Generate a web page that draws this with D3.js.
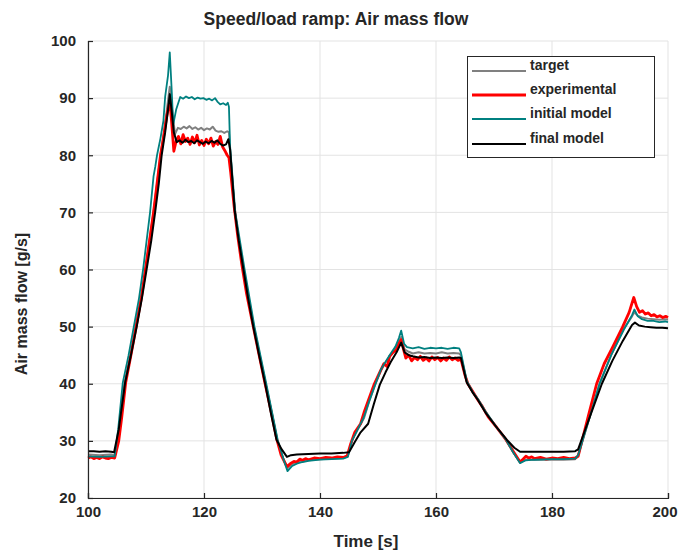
<!DOCTYPE html>
<html><head><meta charset="utf-8">
<script src="https://cdn.jsdelivr.net/npm/d3@7"></script>
<style>
body{margin:0;background:#fff;}
text{font-family:"Liberation Sans",Arial,sans-serif;font-weight:bold;fill:#262626;}
</style></head>
<body><svg id="c" width="678" height="554"></svg>
<script>
const title = "Speed/load ramp: Air mass flow";
const xLabel = "Time [s]";
const yLabel = "Air mass flow [g/s]";
const xTicks = [100,120,140,160,180,200];
const yTicks = [20,30,40,50,60,70,80,90,100];
const seriesNames = ["target","experimental","initial model","final model"];

const target = [[100,27.6],[102,27.5],[104,27.6],[104.6,27.5],[105.4,32],[106.3,40.2],[107.3,45],[108.2,50],[109.1,55],[109.9,60],[110.6,65],[111.3,70],[111.9,75],[112.5,80],[113.1,84],[113.6,88],[114.1,92],[114.5,88],[115,83.7],[115.5,84.8],[116,84.6],[116.5,85.0],[117,84.7],[117.5,85.1],[118,84.6],[118.5,84.9],[119,84.5],[119.5,84.8],[120,84.4],[120.5,84.7],[121,84.5],[121.5,85.0],[122,84.3],[122.5,84.1],[123,84.2],[123.5,83.9],[124,84.2],[124.3,84.0],[124.5,81],[125.3,70.2],[126.8,60],[128.6,50],[130.6,40.2],[132.6,30.2],[133.7,26.8],[134.4,25.2],[135.2,25.9],[136,26.2],[138,26.6],[140,26.8],[142,26.9],[144,27.0],[144.8,27.3],[145.5,30],[146.5,32],[147.6,34],[148.5,37],[149.5,39.8],[150.5,42.3],[151.3,43.7],[152.2,45],[153.2,46.5],[154,48.2],[154.6,46],[155.3,45.6],[156,45.3],[157,45.5],[158,45.3],[159,45.4],[160,45.3],[161,45.5],[162,45.3],[163,45.4],[164,45.3],[164.3,45],[165.3,40.4],[166.3,38.6],[167.3,37.2],[168.5,35.2],[170.5,32.3],[172,30.3],[173.3,28],[174.5,26.3],[175.5,26.7],[177,26.7],[180,26.7],[182,26.7],[184,26.8],[184.5,27.4],[186.6,34.5],[188.2,40],[190.2,45],[192.3,49.5],[193.8,51.8],[194.2,52.5],[194.8,51.9],[195.5,51.6],[196.5,51.4],[197.5,51.3],[198.5,51.2],[199.5,51.3],[200,51.2]];

const experimental = [[100,27.0],[100.5,27.2],[101,26.9],[101.5,27.1],[102,26.9],[102.5,27.2],[103,27.0],[103.5,26.9],[104,27.1],[104.6,27.0],[105.3,30],[105.8,34],[106.5,40.2],[107.4,45],[108.3,50],[109.2,55],[109.9,60],[110.6,65],[111.3,70],[111.9,75],[112.5,80],[113,83],[113.6,87],[114.1,89.5],[114.4,86],[114.8,80.7],[115.2,82.5],[115.6,83.3],[116,82.0],[116.4,83.6],[116.8,82.4],[117.2,83.0],[117.6,81.9],[118,83.2],[118.4,82.2],[118.8,83.5],[119.2,81.8],[119.6,82.6],[120,81.7],[120.4,82.8],[120.8,82.0],[121.2,83.0],[121.6,81.6],[122,82.4],[122.4,81.9],[122.8,83.3],[123.2,81.5],[123.6,80.8],[124,80.0],[124.3,79.6],[124.6,77],[125.2,71],[125.8,66],[126.5,61],[127.3,56],[128.3,51],[129.4,45.5],[130.5,40.2],[131.5,35.5],[132.5,30.5],[133.3,27.5],[134.3,25.5],[135,26.1],[135.5,26.4],[136,26.3],[136.5,26.8],[137,26.6],[137.5,26.9],[138,26.7],[139,27.0],[140,26.9],[141,27.1],[142,27.0],[143,27.2],[144,27.1],[144.7,27.4],[145.3,29.5],[146,31.5],[147,33],[147.6,35],[148.3,37],[149.3,39.8],[150.3,42],[151,43.5],[151.6,43],[152,44.8],[152.6,45.5],[153.2,46],[153.7,47.2],[154,47.7],[154.4,46],[154.8,44.5],[155.3,45],[155.8,44.0],[156.3,44.6],[156.8,44.2],[157.3,44.8],[157.8,44.1],[158.3,44.5],[158.8,44.0],[159.3,44.7],[159.8,44.2],[160.3,44.6],[160.8,44.0],[161.3,44.5],[161.8,44.1],[162.3,44.7],[162.8,44.2],[163.3,44.5],[163.8,44.1],[164.3,44.3],[165,41.5],[165.5,40],[166.3,38.7],[167.2,37.2],[168,36],[169,34.2],[170.5,32.3],[172,30.3],[173.3,28.2],[174.5,26.3],[175,26.8],[175.5,27.3],[176,27.0],[176.5,27.2],[177,26.9],[178,27.1],[179,26.8],[180,27.0],[181,26.9],[182,27.1],[183,26.9],[184,27.0],[184.5,27.3],[185.3,30.5],[186.3,34.5],[187.7,40],[189,43.5],[190.5,46.5],[192.2,50],[193.3,52.5],[194.1,55.1],[194.6,53.5],[195.1,52.5],[195.6,52.8],[196.1,52.2],[196.6,52.4],[197.1,51.9],[197.6,52.1],[198.1,51.7],[198.6,51.9],[199.1,51.6],[199.6,51.8],[200,51.6]];

const initialModel = [[100,27.3],[102,27.2],[104,27.3],[104.6,27.3],[105.2,32],[106,40.2],[107,45],[107.9,50],[108.8,55],[109.5,60],[110.1,65],[110.7,70],[111.3,76.3],[111.6,78],[111.9,80],[112.5,83],[113,86],[113.3,90.2],[113.8,94],[114.1,98],[114.4,92],[114.7,85.4],[115.2,88],[115.9,90.2],[116.4,89.9],[116.9,90.3],[117.4,90.0],[117.9,90.2],[118.4,89.8],[118.9,90.1],[119.4,89.9],[119.9,90.0],[120.4,89.7],[120.9,89.9],[121.4,89.6],[121.9,90.0],[122.3,89.4],[122.8,88.9],[123.3,89.1],[123.8,88.8],[124.1,89.2],[124.3,88.5],[124.5,81.5],[125.4,70],[127,60],[128.7,50],[130.7,40.2],[132.7,30.2],[133.8,26.5],[134.4,24.7],[135.2,25.6],[136,26.0],[137,26.3],[138,26.5],[140,26.7],[142,26.8],[144,26.9],[144.8,27.2],[145.5,30],[146.5,32],[147.5,34],[148.5,37],[149.5,39.8],[150.5,42.5],[151.2,43.7],[152,45],[153,46.5],[153.6,48],[154,49.3],[154.5,47],[155,46.4],[156,46.2],[157,46.4],[158,46.1],[159,46.3],[160,46.2],[161,46.3],[162,46.1],[163,46.3],[164,46.2],[164.3,45.5],[165.3,40.5],[166.3,38.6],[167.3,37.2],[168.5,35.2],[170.5,32.3],[172,30.3],[173.3,28],[174.5,26.1],[175.5,26.6],[177,26.7],[180,26.8],[182,26.8],[184,26.9],[184.5,27.5],[186.6,34.5],[188.2,40],[190.2,45],[192.4,49.5],[193.8,52],[194.2,53],[194.8,51.8],[195.5,51.3],[196.5,51.0],[197.5,51.0],[198.5,50.8],[199.5,50.9],[200,50.8]];

const finalModel = [[100,28.2],[101,28.2],[102,28.1],[103,28.2],[104,28.1],[104.5,28.0],[105.3,32],[106.4,40.2],[107.4,45],[108.4,50],[109.3,55],[110.1,60],[110.9,65],[111.6,70.2],[112.2,75],[112.7,80],[113.3,84],[113.8,88],[114.1,90.7],[114.4,88],[114.8,84],[115.3,82.3],[115.8,82.6],[116.3,82.2],[116.8,82.7],[117.3,82.3],[117.8,82.5],[118.3,82.1],[118.8,82.6],[119.3,82.3],[119.8,82.0],[120.3,82.4],[120.8,82.1],[121.3,82.5],[121.8,82.2],[122.3,82.6],[122.8,82.0],[123.3,81.7],[123.8,81.9],[124.2,82.8],[124.5,81.0],[125.3,70.2],[126.0,65],[126.8,60],[127.6,55],[128.5,50],[129.5,45],[130.5,40.2],[131.5,35],[132.5,30.2],[133.4,28.5],[134.3,27.2],[135,27.5],[136,27.6],[138,27.7],[140,27.8],[142,27.8],[144,27.9],[145,28.0],[146,29.8],[147,31.5],[148.3,33],[149.3,36.5],[150.3,39.8],[151.3,42],[152.3,44],[153.2,45.5],[154,47.2],[154.6,45.5],[155.3,45.0],[156,44.8],[157,44.6],[158,44.7],[159,44.5],[160,44.6],[161,44.5],[162,44.6],[163,44.5],[164,44.6],[164.3,44.5],[165.3,40.2],[166.3,38.5],[167.2,37.2],[168.5,35],[170.5,32.3],[172.2,30.2],[173.5,28.8],[174.5,28.1],[176,28.1],[178,28.1],[180,28.1],[182,28.1],[184,28.2],[184.5,28.5],[186.8,35],[188.6,40],[190.4,44],[192.2,47.5],[193.8,50.3],[194.3,50.7],[195,50.2],[196,50.0],[197,49.9],[198,49.8],[199,49.8],[200,49.7]];

const seriesData = [target, experimental, initialModel, finalModel];
const colors = ["#808080","#ff0000","#008080","#000000"];
const widths = [2, 2.8, 1.8, 2];

const svg = d3.select("#c");
const L = 88, R = 668, T = 41, B = 498;
const x = d3.scaleLinear().domain([100,200]).range([L,R]);
const y = d3.scaleLinear().domain([20,100]).range([B,T]);

// grid
const g = svg.append("g");
g.selectAll(".gx").data(xTicks).join("line")
  .attr("x1",d=>x(d)).attr("x2",d=>x(d)).attr("y1",T).attr("y2",B)
  .attr("stroke","#e3e3e3").attr("stroke-width",1);
g.selectAll(".gy").data(yTicks).join("line")
  .attr("x1",L).attr("x2",R).attr("y1",d=>y(d)).attr("y2",d=>y(d))
  .attr("stroke","#e3e3e3").attr("stroke-width",1);

// lines
const line = d3.line().x(d=>x(d[0])).y(d=>y(d[1]));
seriesData.forEach((s,i)=>{
  svg.append("path").datum(s).attr("d",line)
    .attr("fill","none").attr("stroke",colors[i]).attr("stroke-width",widths[i])
    .attr("stroke-linejoin","round");
});

// axes
const xAxis = d3.axisBottom(x).tickValues(xTicks).tickSize(-5).tickPadding(8).tickFormat(d3.format("d"));
const yAxis = d3.axisLeft(y).tickValues(yTicks).tickSize(-5).tickPadding(12).tickFormat(d3.format("d"));
const gx = svg.append("g").attr("transform",`translate(0,${B})`).call(xAxis);
const gy = svg.append("g").attr("transform",`translate(${L},0)`).call(yAxis);
[gx,gy].forEach(a=>{
  a.select(".domain").attr("stroke","#262626").attr("stroke-width",1.2);
  a.selectAll(".tick line").attr("stroke","#262626").attr("stroke-width",1.2);
  a.selectAll(".tick text").style("font-size","15px").style("font-family","Liberation Sans, Arial, sans-serif").style("font-weight","bold").attr("fill","#262626");
});
// keep the last x tick label inside the canvas
gx.selectAll(".tick text").filter(d=>d===200).attr("text-anchor","end").attr("dx",9);

// titles
svg.append("text").attr("x",336).attr("y",25).attr("text-anchor","middle")
  .style("font-size","17.5px").text(title);
svg.append("text").attr("x",366).attr("y",547).attr("text-anchor","middle")
  .style("font-size","17px").text(xLabel);
svg.append("text").attr("transform",`translate(27,304) rotate(-90)`).attr("text-anchor","middle")
  .style("font-size","16px").text(yLabel);

// legend
const lg = svg.append("g");
lg.append("rect").attr("x",467.5).attr("y",56.5).attr("width",187).attr("height",101)
  .attr("fill","#fff").attr("stroke","#262626").attr("stroke-width",1);
const rowY = [71,95,119,144];
seriesNames.forEach((n,i)=>{
  lg.append("line").attr("x1",472).attr("x2",526).attr("y1",rowY[i]).attr("y2",rowY[i])
    .attr("stroke",colors[i]).attr("stroke-width",widths[i]);
  lg.append("text").attr("x",530).attr("y",rowY[i]-1).style("font-size","14px").text(n);
});
</script></body></html>
